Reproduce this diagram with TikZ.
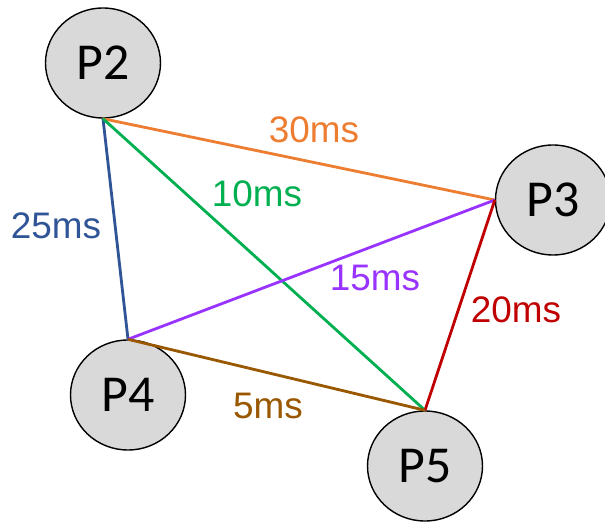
\documentclass[tikz,border=0pt]{standalone}
\usepackage{xcolor}
\usepackage{fontspec}
\usepackage{tikz}
\usetikzlibrary{shapes,positioning}
\setmainfont{Liberation Sans}
\newfontfamily\procfont{Carlito}
\definecolor{fillgray}{RGB}{217,217,217}
\definecolor{linkorange}{RGB}{237,125,49}
\definecolor{linkblue}{RGB}{47,85,151}
\definecolor{linkgreen}{RGB}{0,176,80}
\definecolor{linkpurple}{RGB}{153,51,255}
\definecolor{linkred}{RGB}{192,0,0}
\definecolor{linkbrown}{RGB}{153,87,0}

\begin{document}
\begin{tikzpicture}[
    proc/.style={ellipse, draw=black, fill=fillgray, line width=0.8pt,
                 minimum width=2.3cm, minimum height=2.2cm, inner sep=0pt,
                 font=\procfont\fontsize{29.5}{30}\selectfont},
    link/.style={line width=1.6pt},
    delay/.style={font=\fontsize{21}{22}\selectfont, inner sep=0pt}
]
\useasboundingbox (0,0) rectangle (12.1,-10.46);

% Processes
\node[proc] (p2) at (2.06, -1.26) {P2};
\node[proc] (p3) at (11.06, -4.00) {P3};
\node[proc] (p4) at (2.56, -7.90) {P4};
\node[proc] (p5) at (8.50, -9.32) {P5};

% Connections
\draw[link, linkorange] (p2.south) -- (p3.west);
\draw[link, linkblue] (p2.south) -- (p4.north);
\draw[link, linkgreen] (p2.south) -- (p5.north);
\draw[link, linkpurple] (p4.north) -- (p3.west);
\draw[link, linkred] (p3.west) -- (p5.north);
\draw[link, linkbrown] (p4.north) -- (p5.north);

% Delay labels
\node[delay, text=linkorange] (d23) at (6.28, -2.60) {30ms};
\node[delay, text=linkblue] (d24) at (1.12, -4.52) {25ms};
\node[delay, text=linkgreen] (d25) at (5.14, -3.88) {10ms};
\node[delay, text=linkpurple] (d43) at (7.50, -5.56) {15ms};
\node[delay, text=linkred] (d35) at (10.32, -6.20) {20ms};
\node[delay, text=linkbrown] (d45) at (5.36, -8.12) {5ms};

\end{tikzpicture}
\end{document}
